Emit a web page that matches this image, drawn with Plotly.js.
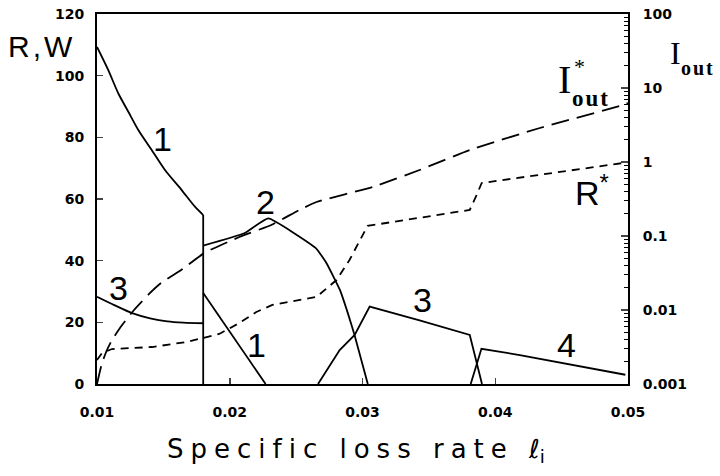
<!DOCTYPE html>
<html>
<head>
<meta charset="utf-8">
<script src="https://cdn.plot.ly/plotly-3.0.1.min.js"></script>
<style>
html,body{margin:0;padding:0;background:#fff;}
#chart{width:720px;height:476px;}
</style>
</head>
<body>
<div id="chart"></div>
<script>
// ---- data (left axis: R, W) ----
const curve1a_x = [0.0100, 0.01085, 0.0116, 0.01236, 0.01311, 0.01412, 0.01512, 0.01638, 0.01738, 0.0180];
const curve1a_y = [109.3, 101.8, 94.3, 88.3, 82.4, 75.9, 69.4, 62.9, 57.5, 54.8];
const curve1b_x = [0.0180, 0.0227];
const curve1b_y = [29.5, 0];
const curve2_x = [0.0180, 0.0211, 0.0229, 0.0265, 0.0273, 0.0283, 0.0289, 0.0294, 0.0304];
const curve2_y = [44.9, 48.9, 53.7, 44.0, 39.1, 30.5, 22.9, 15.9, 0];
const curve3a_x = [0.0100, 0.0113, 0.0127, 0.0140, 0.0153, 0.0165, 0.0180];
const curve3a_y = [28.3, 25.6, 22.9, 21.3, 20.3, 19.9, 19.7];
const curve3b_x = [0.02665, 0.02828, 0.02941, 0.03054, 0.0343, 0.03808, 0.0390];
const curve3b_y = [0, 11.0, 15.9, 25.1, 20.6, 15.9, 0];
const curve4_x = [0.03815, 0.03896, 0.04185, 0.04585, 0.0498];
const curve4_y = [0, 11.4, 9.4, 6.2, 3.0];

// ---- data (right log axis: I*out, R*) ----
const iout_x = [0.0100, 0.01038, 0.01075, 0.01113, 0.01189, 0.01279, 0.01392, 0.01483, 0.01634, 0.01808,
                0.02072, 0.02313, 0.02525, 0.02653, 0.03075, 0.03430, 0.03808, 0.04336, 0.04962, 0.0500];
const iout_y = [0.00100, 0.00192, 0.00288, 0.00393, 0.00627, 0.0100, 0.01646, 0.0232, 0.0347, 0.0589,
                0.0969, 0.141, 0.225, 0.288, 0.459, 0.780, 1.45, 2.88, 5.89, 6.27];
const rstar_x = [0.0100, 0.01038, 0.01113, 0.01415, 0.01672, 0.01808, 0.01921, 0.02072, 0.02200, 0.02321,
                 0.02653, 0.02804, 0.02902, 0.03038, 0.03808, 0.03853, 0.03898, 0.04962, 0.0500];
const rstar_y = [0.00211, 0.00262, 0.00297, 0.00316, 0.00369, 0.00418, 0.00474, 0.00668, 0.0094, 0.0117,
                 0.0150, 0.0254, 0.0474, 0.137, 0.225, 0.337, 0.520, 0.969, 0.99];

// ---- tick labels ----
const xTickVals = [0.01, 0.02, 0.03, 0.04, 0.05];
const xTickText = ['0.01', '0.02', '0.03', '0.04', '0.05'];
const yTickVals = [0, 20, 40, 60, 80, 100, 120];
const y2TickVals = [0.001, 0.01, 0.1, 1, 10, 100];
const y2TickText = ['0.001', '0.01', '0.1', '1', '10', '100'];

const y2Minor = [];
for (let d = -3; d < 2; d++) {
  for (let m = 2; m <= 9; m++) y2Minor.push(m * Math.pow(10, d));
}

function sline(x, y, shape, smooth) {
  const ln = {color: '#000', width: 1.8};
  if (shape) { ln.shape = shape; ln.smoothing = smooth; }
  return {x: x, y: y, type: 'scatter', mode: 'lines', line: ln, hoverinfo: 'skip', showlegend: false};
}
const last1 = curve1a_x.length - 1;
const traces = [
  sline(curve1a_x, curve1a_y, 'spline', 0.7),
  // vertical drop of curve 1 at the end of its first branch
  sline([curve1a_x[last1], curve1a_x[last1]], [curve1a_y[last1], 0]),
  sline(curve1b_x, curve1b_y),
  sline(curve2_x, curve2_y, 'spline', 0.35),
  sline(curve3a_x, curve3a_y, 'spline', 0.8),
  sline(curve3b_x, curve3b_y),
  sline(curve4_x, curve4_y),
  {x: iout_x, y: iout_y, yaxis: 'y2', type: 'scatter', mode: 'lines',
   line: {color: '#000', width: 1.8, dash: '18px,8px', shape: 'spline', smoothing: 0.5}, showlegend: false},
  {x: rstar_x, y: rstar_y, yaxis: 'y2', type: 'scatter', mode: 'lines',
   line: {color: '#000', width: 1.8, dash: '8px,6px'}, showlegend: false}
];

const L = 97, R = 628, T = 14, B = 384;
function px(x) { return (x - L) / (R - L); }
function py(y) { return (B - y) / (B - T); }
const numFont = {family: 'Liberation Sans Narrow, Liberation Sans, Arial', size: 34, color: '#000'};
function lab(text, x, y, font) {
  return {text: text, x: px(x), y: py(y), xref: 'paper', yref: 'paper', showarrow: false,
          xanchor: 'center', yanchor: 'middle', font: font || numFont};
}
const serif = 'Liberation Serif, Times New Roman, serif';
const annotations = [
  lab('1', 162, 139), lab('3', 118, 288), lab('2', 265, 202),
  lab('1', 256, 345), lab('3', 422, 300), lab('4', 566, 345),
  lab('<span style="letter-spacing:3px">R,W</span>', 41, 47, {family: 'Liberation Sans', size: 30, color: '#000'}),
  lab('R<sup>*</sup>', 592, 190, numFont),
  lab('I', 564, 80, {family: serif, size: 40, color: '#000'}),
  lab('*', 579, 66, {family: serif, size: 22, color: '#000'}),
  lab('<span style="letter-spacing:2px">out</span>', 591, 98, {family: serif, size: 23, color: '#000', weight: 'bold'}),
  lab('I', 675, 53, {family: serif, size: 32, color: '#000'}),
  lab('<span style="letter-spacing:2px">out</span>', 698, 68, {family: serif, size: 20, color: '#000', weight: 'bold'}),
  lab('<span style="letter-spacing:7px">Specific loss rate </span><i>ℓ</i><sub>i</sub>', 356, 450,
      {family: 'DejaVu Sans', size: 26, color: '#000'})
];

const tickFont = {family: 'DejaVu Sans', size: 14, color: '#000', weight: 'bold'};
const layout = {
  width: 720, height: 476,
  margin: {l: L, r: 720 - R, t: T, b: 476 - B, pad: 0},
  paper_bgcolor: '#fff', plot_bgcolor: '#fff',
  showlegend: false,
  xaxis: {range: [0.01, 0.05], tickvals: xTickVals, ticktext: xTickText, ticks: 'inside', ticklen: 6,
          tickwidth: 1.5, showline: true, linecolor: '#000', linewidth: 2, mirror: true, showgrid: false,
          zeroline: false, tickfont: tickFont, ticklabelstandoff: 14},
  yaxis: {range: [0, 120], tickvals: yTickVals, ticks: 'inside', ticklen: 6, tickwidth: 1.5,
          showline: true, linecolor: '#000', linewidth: 2, showgrid: false, zeroline: false,
          tickfont: tickFont, ticklabelstandoff: 8},
  yaxis2: {type: 'log', range: [-3, 2], overlaying: 'y', side: 'right', anchor: 'x',
           tickvals: y2TickVals, ticktext: y2TickText, ticks: 'inside', ticklen: 7, tickwidth: 1.5,
           minor: {tickvals: y2Minor, ticks: 'inside', ticklen: 4, tickwidth: 1.2, tickcolor: '#000', showgrid: false},
           showline: true, linecolor: '#000', linewidth: 2, showgrid: false, zeroline: false,
           tickfont: tickFont, ticklabelstandoff: 10},
  annotations: annotations
};
Plotly.newPlot('chart', traces, layout, {staticPlot: true, displayModeBar: false});
</script>
</body>
</html>
